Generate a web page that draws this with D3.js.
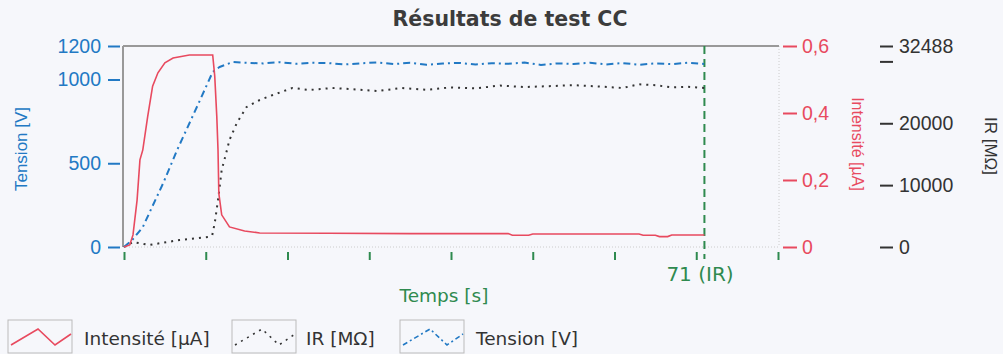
<!DOCTYPE html>
<html>
<head>
<meta charset="utf-8">
<script src="https://cdn.jsdelivr.net/npm/d3@7"></script>
<style>
body{margin:0;background:#f6f7fb;}
svg{display:block;font-family:"DejaVu Sans",Arial,sans-serif;}
.axis .domain{display:none;}
.narrow{font-family:"Liberation Sans",Arial,sans-serif;}
</style>
</head>
<body>
<div id="chart"></div>
<script>
// temps [s]
var xTicks=[0,10,20,30,40,50,60,70,80];
var irMark=71;

// Intensité [µA]
var intensT=[0,0.7,1.1,1.6,1.95,2.3,2.9,3.5,4.15,5,6,8,10.85,11.1,11.35,11.5,11.6,11.95,12.9,14.75,16.6,25,35,47,47.5,49.5,50,63,63.5,65,65.5,66.5,67,70,71];
var intensI=[0,0.006,0.036,0.14,0.26,0.29,0.39,0.48,0.52,0.55,0.564,0.573,0.573,0.51,0.39,0.29,0.16,0.096,0.06,0.048,0.042,0.041,0.040,0.040,0.035,0.035,0.039,0.039,0.035,0.035,0.031,0.031,0.036,0.036,0.036];

// Tension [V]
var tensT=[0,1,2.3,4.8,6.5,9.3,10.85,11.7,13.3,15,17,19,21,23,25,27,29,31,33,35,37,39,41,43,45,47,49,51,53,55,57,59,61,63,65,67,69,71];
var tensV=[0,42,119,382,579,877,1045,1075,1104,1100,1096,1103,1094,1100,1098,1090,1097,1102,1092,1100,1088,1096,1099,1090,1097,1094,1101,1087,1096,1093,1100,1090,1098,1088,1096,1092,1100,1093];

// IR [MOhm]
var irT=[0,1.1,2,3.1,6.8,10.4,10.8,11.1,11.5,11.95,12.6,12.9,13.8,15,16.6,18.2,20.6,22.7,25.5,28,31,34,37,40,43,46,49,52,55,58,61,63,65,67,69,71];
var irR=[0,808,600,323,1131,1616,1940,3880,7600,12450,15680,17290,20040,22630,23760,24570,25700,25380,25700,25500,25200,25700,25400,25800,25650,26100,25850,26000,26150,25950,25700,26300,26150,25800,25900,25700];

var tensTicks=[0,500,1000,1200];
var intensTicks=[0,0.2,0.4,0.6];
var irTicks=[0,10000,20000,30000,32488];

var blue="#2279c4",red="#e84a5f",green="#2f8a4f",dark="#333";

var W=1003,H=354;
var svg=d3.select("#chart").append("svg").attr("width",W).attr("height",H);
svg.append("rect").attr("width",W).attr("height",H).attr("fill","#f6f7fb");

var pTop=46,pBottom=247,pLeft=123,pRight=779;
var x=d3.scaleLinear().domain([0,80]).range([124,778]);
var yV=d3.scaleLinear().domain([0,1200]).range([pBottom,pTop]);
var yI=d3.scaleLinear().domain([0,0.6]).range([pBottom,pTop]);
var yR=d3.scaleLinear().domain([0,32488]).range([pBottom,pTop]);

// title
svg.append("text").attr("x",510).attr("y",26).attr("text-anchor","middle")
    .attr("font-size",20.5).attr("font-weight","bold").attr("fill","#3c3c3c")
    .text("Résultats de test CC");

// frame
svg.append("line").attr("x1",pRight).attr("x2",pRight).attr("y1",pTop).attr("y2",pBottom)
    .attr("stroke","#ccc").attr("stroke-dasharray","1,2");
svg.append("line").attr("x1",pLeft).attr("x2",pRight).attr("y1",pBottom).attr("y2",pBottom)
    .attr("stroke","#ccc").attr("stroke-dasharray","1,2");
svg.append("line").attr("x1",pLeft).attr("x2",pLeft).attr("y1",pTop).attr("y2",pBottom)
    .attr("stroke","#999").attr("stroke-width",2);
svg.append("line").attr("x1",pLeft).attr("x2",pRight).attr("y1",pTop).attr("y2",pTop)
    .attr("stroke","#999").attr("stroke-width",2);

function styleAxis(g,col){
    g.selectAll("line").attr("stroke",col).attr("stroke-width",2);
    g.selectAll("text").attr("fill",col).attr("font-size",19.5);
}

var axV=svg.append("g").attr("class","axis").attr("transform","translate(120,0)")
    .call(d3.axisLeft(yV).tickValues(tensTicks).tickFormat(d3.format("d")).tickSize(12).tickPadding(7));
styleAxis(axV,blue);

var fmtI=function(d){return d===0?"0":d.toFixed(1).replace(".",",");};
var axI=svg.append("g").attr("class","axis").attr("transform","translate(783,0)")
    .call(d3.axisRight(yI).tickValues(intensTicks).tickFormat(fmtI).tickSize(14).tickPadding(5));
styleAxis(axI,red);

var axR=svg.append("g").attr("class","axis").attr("transform","translate(880,0)")
    .call(d3.axisRight(yR).tickValues(irTicks).tickFormat(function(d){return d===30000?"":String(d);}).tickSize(13).tickPadding(6));
styleAxis(axR,dark);

var axX=svg.append("g").attr("class","axis").attr("transform","translate(0,252)")
    .call(d3.axisBottom(x).tickValues(xTicks).tickSize(8).tickFormat(""));
axX.selectAll("line").attr("stroke",green).attr("stroke-width",2);

// axis titles
svg.append("text").attr("class","narrow").attr("transform","translate(27,149) rotate(-90)").attr("text-anchor","middle")
    .attr("font-size",17).attr("fill",blue).text("Tension [V]");
svg.append("text").attr("class","narrow").attr("transform","translate(852,144) rotate(90)").attr("text-anchor","middle")
    .attr("font-size",16).attr("fill",red).text("Intensité [µA]");
svg.append("text").attr("class","narrow").attr("transform","translate(985,146) rotate(90)").attr("text-anchor","middle")
    .attr("font-size",17).attr("fill",dark).text("IR [MΩ]");
svg.append("text").attr("x",444).attr("y",302).attr("text-anchor","middle")
    .attr("font-size",18.5).attr("fill",green).text("Temps [s]");
svg.append("text").attr("x",700).attr("y",281).attr("text-anchor","middle")
    .attr("font-size",20).attr("fill",green).text(irMark+" (IR)");

// IR marker line
svg.append("line").attr("x1",x(irMark)).attr("x2",x(irMark)).attr("y1",pTop).attr("y2",259)
    .attr("stroke",green).attr("stroke-width",2).attr("stroke-dasharray","8,5");

// series
function pts(ts,vs,ys){return ts.map(function(t,i){return [x(t),ys(vs[i])];});}
var line=d3.line();

svg.append("path").attr("d",line(pts(irT,irR,yR))).attr("fill","none")
    .attr("stroke",dark).attr("stroke-width",2).attr("stroke-dasharray","2,5");
svg.append("path").attr("d",line(pts(tensT,tensV,yV))).attr("fill","none")
    .attr("stroke",blue).attr("stroke-width",2).attr("stroke-dasharray","7,4,2,4");
svg.append("path").attr("d",line(pts(intensT,intensI,yI))).attr("fill","none")
    .attr("stroke",red).attr("stroke-width",1.6);

// legend
var legItems=[
    {name:"Intensité [µA]",col:red,dash:null,bx:8,tx:84},
    {name:"IR [MΩ]",col:dark,dash:"2,5",bx:232,tx:306},
    {name:"Tension [V]",col:blue,dash:"5,3,2,3",bx:400,tx:476}
];
var leg=svg.selectAll(".leg").data(legItems).enter().append("g").attr("class","leg");
leg.append("rect").attr("x",function(d){return d.bx;}).attr("y",320).attr("width",64).attr("height",33)
    .attr("fill","none").attr("stroke","#bbb");
leg.append("path").attr("d",function(d){
        var b=d.bx;
        return line([[b+3,345],[b+30,329],[b+47,345],[b+63,334]]);
    }).attr("fill","none").attr("stroke",function(d){return d.col;})
    .attr("stroke-width",1.6).attr("stroke-dasharray",function(d){return d.dash;});
leg.append("text").attr("x",function(d){return d.tx;}).attr("y",345)
    .attr("font-size",18.5).attr("fill",dark).text(function(d){return d.name;});
</script>
</body>
</html>
